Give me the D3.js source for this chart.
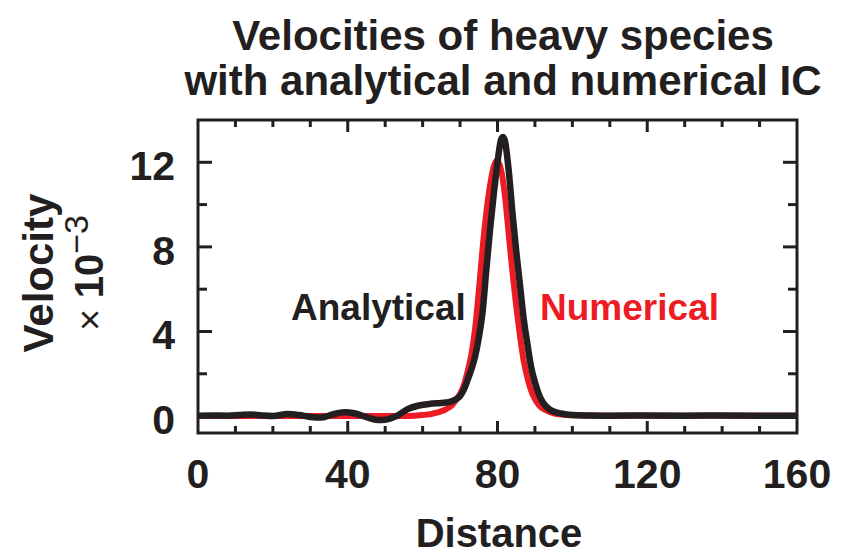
<!DOCTYPE html>
<html>
<head>
<meta charset="utf-8">
<script src="https://cdn.jsdelivr.net/npm/d3@7"></script>
<style>
  html, body { margin: 0; padding: 0; background: #fff; }
  svg { display: block; }
  text { font-family: "Liberation Sans", Arial, Helvetica, sans-serif; }
</style>
</head>
<body>
<svg id="chart" width="848" height="556"></svg>
<script>
// ---- data ----
const titleLines = ["Velocities of heavy species", "with analytical and numerical IC"];
const xLabel = "Distance";
const yLabel = "Velocity";
const xMajorTicks = [0, 40, 80, 120, 160];
const xMinorTicks = [10, 20, 30, 50, 60, 70, 90, 100, 110, 130, 140, 150];
const yMajorTicks = [0, 4, 8, 12];
const yMinorTicks = [2, 6, 10];

const analyticalX = [0, 4, 8, 11, 14, 17, 20, 24, 27, 30, 33, 36, 39, 42, 45, 48, 50, 53, 56, 59, 62, 65, 67, 69, 70, 71, 72, 73, 74, 75, 76, 77, 78, 79, 80, 81, 81.5, 82, 83, 84, 85, 86, 87, 88, 89, 90, 91, 92, 93, 94, 96, 98, 100, 104, 110, 120, 130, 140, 150, 160];
const analyticalY = [0.02, 0.03, 0.02, 0.05, 0.08, 0.03, 0.0, 0.1, 0.05, -0.04, -0.07, 0.08, 0.18, 0.12, -0.05, -0.18, -0.17, 0.0, 0.33, 0.5, 0.58, 0.62, 0.66, 0.8, 0.95, 1.25, 1.7, 2.2, 2.8, 3.7, 4.9, 6.9, 8.8, 10.5, 12.0, 13.1, 13.2, 13.0, 11.6, 9.6, 7.8, 6.2, 4.6, 3.4, 2.3, 1.6, 1.05, 0.68, 0.45, 0.3, 0.16, 0.09, 0.05, 0.03, 0.02, 0.03, 0.02, 0.03, 0.02, 0.02];

const numericalX = [0, 10, 20, 30, 40, 50, 56, 58, 60, 62, 64, 66, 68, 69, 70, 71, 72, 73, 74, 75, 76, 77, 78, 79, 79.9, 81, 82, 83, 84, 85, 86, 87, 88, 89, 90, 91.3, 93, 95, 97, 100, 110, 120, 130, 140, 150, 160];
const numericalY = [0.0, 0.0, 0.0, 0.0, 0.0, 0.0, 0.0, 0.02, 0.05, 0.09, 0.17, 0.3, 0.55, 0.8, 1.05, 1.45, 2.1, 2.9, 4.1, 5.9, 7.9, 9.6, 10.9, 11.8, 12.1, 11.6, 10.4, 8.6, 6.8, 5.2, 3.8, 2.6, 1.8, 1.2, 0.8, 0.47, 0.27, 0.13, 0.07, 0.04, 0.02, 0.02, 0.02, 0.02, 0.02, 0.02];

// ---- layout ----
const svg = d3.select("#chart");
const m = { left: 198, top: 120, right: 797, bottom: 433 };
const ink = "#231f20";
const red = "#ed1c24";

const x = d3.scaleLinear().domain([0, 160]).range([m.left, m.right]);
const y = d3.scaleLinear().domain([-0.8, 14]).range([m.bottom, m.top]);

// title
svg.selectAll("text.title").data(titleLines).join("text")
  .attr("class", "title")
  .attr("x", 503).attr("y", (d, i) => 50 + i * 45)
  .attr("text-anchor", "middle")
  .attr("font-size", 42).attr("font-weight", "bold").attr("fill", ink)
  .text(d => d);

// curves
const line = d3.line().x(d => x(d[0])).y(d => y(d[1])).curve(d3.curveMonotoneX);
const numData = numericalX.map((v, i) => [v, numericalY[i]]);
const anaData = analyticalX.map((v, i) => [v, analyticalY[i]]);

const plot = svg.append("g");
plot.append("defs").append("clipPath").attr("id", "clip")
  .append("rect").attr("x", m.left).attr("y", m.top)
  .attr("width", m.right - m.left).attr("height", m.bottom - m.top);
const curves = plot.append("g").attr("clip-path", "url(#clip)");
curves.append("path").datum(numData).attr("d", line)
  .attr("fill", "none").attr("stroke", red).attr("stroke-width", 6).attr("stroke-linejoin", "round");
curves.append("path").datum(anaData).attr("d", line)
  .attr("fill", "none").attr("stroke", ink).attr("stroke-width", 6.5).attr("stroke-linejoin", "round");

// frame
svg.append("rect").attr("x", m.left).attr("y", m.top)
  .attr("width", m.right - m.left).attr("height", m.bottom - m.top)
  .attr("fill", "none").attr("stroke", ink).attr("stroke-width", 3);

// ticks (inward, on all four sides)
const tg = svg.append("g").attr("stroke", ink).attr("stroke-width", 3);
function xTicks(vals, len) {
  vals.forEach(v => {
    tg.append("line").attr("x1", x(v)).attr("x2", x(v)).attr("y1", m.bottom).attr("y2", m.bottom - len);
    tg.append("line").attr("x1", x(v)).attr("x2", x(v)).attr("y1", m.top).attr("y2", m.top + len);
  });
}
function yTicks(vals, len) {
  vals.forEach(v => {
    tg.append("line").attr("x1", m.left).attr("x2", m.left + len).attr("y1", y(v)).attr("y2", y(v));
    tg.append("line").attr("x1", m.right).attr("x2", m.right - len).attr("y1", y(v)).attr("y2", y(v));
  });
}
xTicks(xMajorTicks.filter(v => v > 0 && v < 160), 12);
xTicks(xMinorTicks, 7);
yTicks(yMajorTicks, 14);
yTicks(yMinorTicks, 9);

// tick labels
svg.selectAll("text.xt").data(xMajorTicks).join("text")
  .attr("class", "xt")
  .attr("x", d => x(d)).attr("y", 488)
  .attr("text-anchor", "middle")
  .attr("font-size", 41).attr("font-weight", "bold").attr("fill", ink)
  .text(d => d);
svg.selectAll("text.yt").data(yMajorTicks).join("text")
  .attr("class", "yt")
  .attr("x", 175).attr("y", d => y(d) + 18)
  .attr("text-anchor", "end")
  .attr("font-size", 41).attr("font-weight", "bold").attr("fill", ink)
  .text(d => d);

// axis titles
svg.append("text").attr("x", 499).attr("y", 547)
  .attr("text-anchor", "middle")
  .attr("font-size", 40).attr("font-weight", "bold").attr("fill", ink)
  .text(xLabel);

svg.append("text")
  .attr("transform", "translate(53,273) rotate(-90)")
  .attr("text-anchor", "middle")
  .attr("font-size", 42).attr("font-weight", "bold").attr("fill", ink)
  .text(yLabel);

const mult = svg.append("text")
  .attr("transform", "translate(103,273) rotate(-90)")
  .attr("text-anchor", "middle")
  .attr("font-size", 38).attr("fill", ink);
mult.append("tspan").text("× ");
mult.append("tspan").attr("font-size", 40).attr("font-weight", "bold").text("10");
mult.append("tspan").attr("dy", -15).attr("font-size", 34).text("−3");

// series labels
svg.append("text").attr("x", 291).attr("y", 320)
  .attr("font-size", 37).attr("font-weight", "bold").attr("fill", ink)
  .text("Analytical");
svg.append("text").attr("x", 540).attr("y", 320)
  .attr("font-size", 37).attr("font-weight", "bold").attr("fill", red)
  .text("Numerical");
</script>
</body>
</html>
